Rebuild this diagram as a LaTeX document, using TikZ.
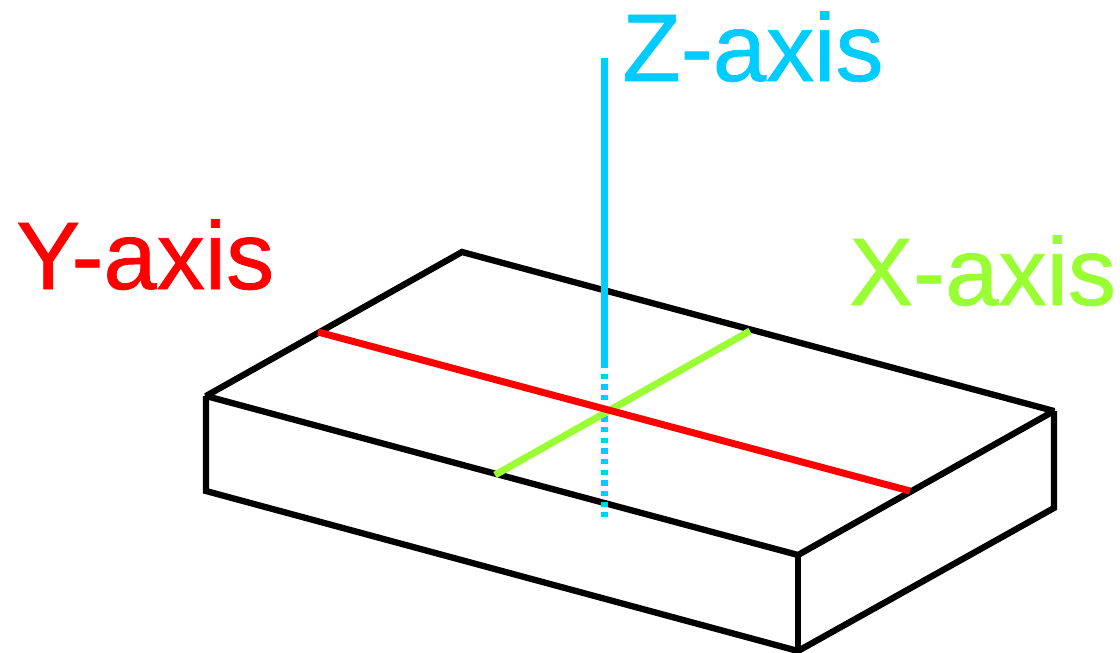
\documentclass[tikz,border=0pt]{standalone}
\usepackage{fontspec}
\setmainfont{Liberation Sans}[FakeBold=0.8]
\usepackage{xcolor}
\usetikzlibrary{positioning}
\definecolor{zaxis}{HTML}{00CCFF}
\definecolor{yaxis}{HTML}{FF0000}
\definecolor{xaxis}{HTML}{99FF33}

\begin{document}
\begin{tikzpicture}[
  x=1pt, y=-1pt,
  every node/.style={font=\fontsize{96}{96}\selectfont, inner sep=0pt},
  edgeline/.style={draw=black, line width=6.3pt, line cap=butt, line join=miter, miter limit=2},
  axisline/.style={line width=7pt},
]
\useasboundingbox (0,0) rectangle (1120,653);

% Corners of the box
\coordinate (backtop) at (462,252);
\coordinate (lefttop) at (206,396);
\coordinate (righttop) at (1054,411);
\coordinate (fronttop) at (798,555);
\coordinate (leftbot) at (206,491);
\coordinate (rightbot) at (1054,508);
\coordinate (frontbot) at (798,651);

% Ends of the axes
\coordinate (zhigh) at (604,58);
\coordinate (zmid) at (604,363);
\coordinate (zlow) at (604,517);
\coordinate (yleft) at (318,332);
\coordinate (yright) at (910,491);
\coordinate (xback) at (750,331);
\coordinate (xfront) at (495,475);

% Box
\draw[edgeline] (backtop) -- (righttop) -- (fronttop) -- (lefttop) -- cycle;
\draw[edgeline] (lefttop) -- (leftbot) -- (frontbot) -- (rightbot) -- (righttop);
\draw[edgeline] (fronttop) -- (frontbot);

% Axes
\draw[axisline, color=zaxis] (zhigh) -- (zmid);
\draw[axisline, color=zaxis, dash pattern=on 5.33pt off 5.33pt] (zmid) -- (zlow);
\draw[axisline, color=xaxis] (xfront) -- (xback);
\draw[axisline, color=yaxis] (yleft) -- (yright);

% Labels
\node[anchor=base west, text=zaxis] (zlabel) at (622,81) {Z-axis};
\node[anchor=base west, text=yaxis] (ylabel) at (16,289) {Y-axis};
\node[anchor=base west, text=xaxis] (xlabel) at (849,305) {X-axis};
\end{tikzpicture}
\end{document}
